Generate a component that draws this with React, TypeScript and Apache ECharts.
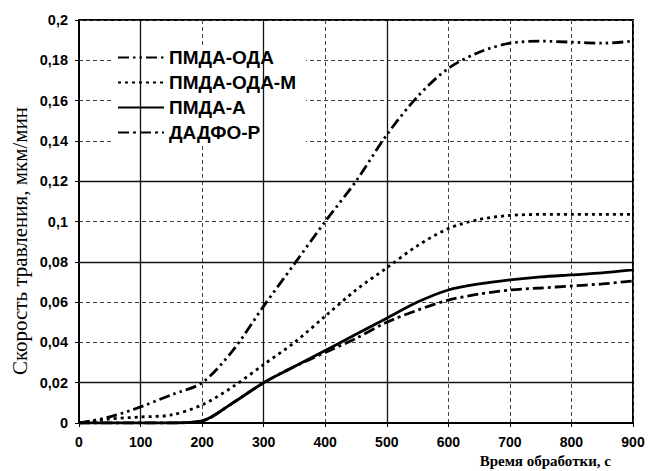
import React, { useEffect, useRef } from "react";
import * as echarts from "echarts";

const times = [0, 50, 100, 150, 200, 250, 300, 350, 400, 450, 500, 550, 600, 650, 700, 750, 800, 850, 900];
const pmdaOda = [0, 0.003, 0.008, 0.014, 0.02, 0.036, 0.058, 0.079, 0.1, 0.12, 0.143, 0.162, 0.176, 0.184, 0.1885, 0.1895, 0.189, 0.1885, 0.1895];
const pmdaOdaM = [0, 0.002, 0.003, 0.004, 0.009, 0.018, 0.029, 0.04, 0.053, 0.066, 0.077, 0.088, 0.0965, 0.101, 0.103, 0.1035, 0.1035, 0.1035, 0.1035];
const pmdaA = [0, 0, 0, 0, 0.001, 0.01, 0.02, 0.028, 0.036, 0.044, 0.052, 0.06, 0.066, 0.069, 0.071, 0.0725, 0.0735, 0.0745, 0.076];
const dadfoR = [0, 0, 0, 0, 0.001, 0.01, 0.02, 0.028, 0.035, 0.042, 0.05, 0.056, 0.061, 0.064, 0.066, 0.067, 0.068, 0.069, 0.0705];
const seriesNames = ["ПМДА-ОДА", "ПМДА-ОДА-М", "ПМДА-А", "ДАДФО-Р"];
const xTicks = [0, 100, 200, 300, 400, 500, 600, 700, 800, 900];
const solidX = [100, 300, 500];
const solidY = [0.02, 0.08, 0.12];

const fmtY = (v: number) => {
  if (v === 0) return "0";
  return String(parseFloat(v.toFixed(3))).replace(".", ",");
};

export default function App() {
  const ref = useRef<HTMLDivElement>(null);
  useEffect(() => {
    if (!ref.current) return;
    const chart = echarts.init(ref.current, undefined, { renderer: "svg" });
    const pairs = (ys: number[]) => times.map((t, i) => [t, ys[i]]);
    const dashes: any[] = [[11, 4, 2.5, 4, 2.5, 4], [3, 4], "solid", [11, 4, 3, 4]];
    const dataSets = [pmdaOda, pmdaOdaM, pmdaA, dadfoR];
    const series: any[] = dataSets.map((d, i) => ({
      name: seriesNames[i],
      type: "line",
      data: pairs(d),
      smooth: 0.3,
      symbol: "none",
      z: 5,
      lineStyle: { color: "#000", width: 2.8, type: dashes[i] },
      itemStyle: { color: "#000" },
    }));
    series.push({
      type: "line",
      data: [],
      silent: true,
      markLine: {
        silent: true,
        symbol: "none",
        label: { show: false },
        lineStyle: { color: "#111", width: 1.3, type: "solid" },
        data: [
          ...solidX.map((x) => ({ xAxis: x })),
          ...solidY.map((y) => ({ yAxis: y })),
        ],
      },
    });
    chart.setOption({
      animation: false,
      backgroundColor: "#fff",
      grid: { left: 79, right: 15, top: 20, bottom: 48, show: true, borderColor: "#000", borderWidth: 2, backgroundColor: "transparent" },
      legend: {
        left: 113,
        top: 46,
        orient: "vertical",
        itemGap: 6,
        itemWidth: 46,
        itemHeight: 19,
        backgroundColor: "#fff",
        padding: [2, 10, 2, 4],
        data: seriesNames,
        itemStyle: { opacity: 0 },
        textStyle: { fontFamily: "Liberation Sans, Arial, sans-serif", fontWeight: "bold", fontSize: 19, color: "#000" },
      },
      xAxis: {
        type: "value",
        min: 0,
        max: 900,
        interval: 100,
        axisLine: { show: true, lineStyle: { color: "#000", width: 2 } },
        axisTick: { show: true, length: 4, lineStyle: { color: "#000" } },
        axisLabel: {
          margin: 12,
          color: "#000",
          fontFamily: "Liberation Sans, Arial, sans-serif",
          fontWeight: "bold",
          fontSize: 14,
          formatter: (v: number) => (xTicks.includes(v) ? String(v) : ""),
        },
        splitLine: { show: true, lineStyle: { color: "#444", width: 1, type: [4, 3] } },
      },
      yAxis: {
        type: "value",
        min: 0,
        max: 0.2,
        interval: 0.02,
        axisLine: { show: true, lineStyle: { color: "#000", width: 2 } },
        axisTick: { show: true, length: 4, lineStyle: { color: "#000" } },
        axisLabel: {
          margin: 11,
          color: "#000",
          fontFamily: "Liberation Sans, Arial, sans-serif",
          fontWeight: "bold",
          fontSize: 14.5,
          formatter: fmtY,
        },
        splitLine: { show: true, lineStyle: { color: "#444", width: 1, type: [4, 3] } },
      },
      graphic: [
        {
          type: "text",
          x: 20,
          y: 241,
          rotation: Math.PI / 2,
          style: {
            text: "Скорость травления, мкм/мин",
            font: "21px 'Liberation Serif', 'Times New Roman', serif",
            fill: "#000",
            align: "center",
            verticalAlign: "middle",
          },
        },
        {
          type: "text",
          x: 611,
          y: 461,
          style: {
            text: "Время обработки, с",
            font: "bold 15px 'Liberation Serif', 'Times New Roman', serif",
            fill: "#000",
            align: "right",
            verticalAlign: "middle",
          },
        },
      ],
      series,
    });
    return () => chart.dispose();
  }, []);
  return <div ref={ref} style={{ width: 648, height: 471, position: "absolute", left: 0, top: 0 }} />;
}
